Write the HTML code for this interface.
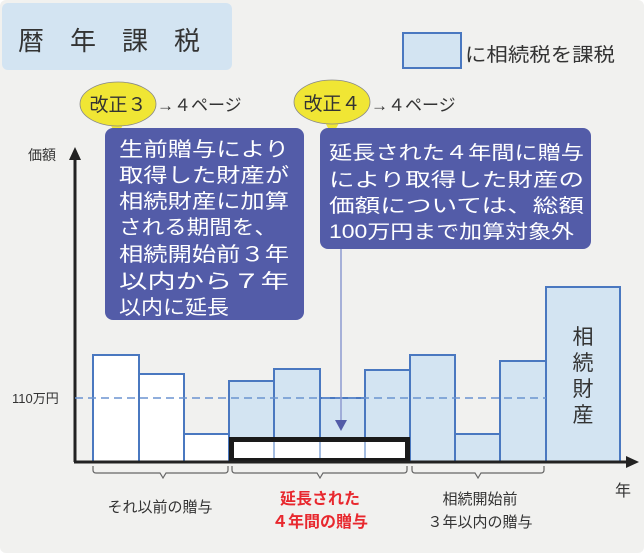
<!DOCTYPE html><html><head><meta charset="utf-8"><style>body{margin:0;background:#fff}svg{display:block}text{font-family:"Liberation Sans","Noto Sans CJK JP",sans-serif}</style></head><body>
<svg width="644" height="553" viewBox="0 0 644 553">
<rect x="0" y="0" width="644" height="553" rx="6" fill="#f1f1ef"/>
<rect x="2" y="3" width="230" height="67" rx="6" fill="#d3e4f2"/>
<text x="18" y="50" font-size="26" fill="#333" letter-spacing="26">暦年課税</text>
<rect x="403" y="33" width="58" height="35" fill="#d3e4f2" stroke="#4a78c0" stroke-width="2"/>
<text x="465" y="61" font-size="19" fill="#333" textLength="150" lengthAdjust="spacingAndGlyphs">に相続税を課税</text>
<!-- bubbles -->
<path d="M110,124 L117,136 L124,123 Z" fill="#f0e634"/>
<ellipse cx="118" cy="104" rx="38" ry="22" fill="#f0e634" stroke="#888" stroke-width="0.8"/>
<text x="118" y="111" font-size="19" fill="#333" text-anchor="middle">改正３</text>
<text x="157" y="111" font-size="17" fill="#333">→４ページ</text>
<path d="M326,124 L332,136 L339,123 Z" fill="#f0e634"/>
<ellipse cx="332" cy="102" rx="38" ry="22" fill="#f0e634" stroke="#888" stroke-width="0.8"/>
<text x="332" y="110" font-size="19" fill="#333" text-anchor="middle">改正４</text>
<text x="371" y="111" font-size="17" fill="#333">→４ページ</text>
<!-- box1 -->
<rect x="105" y="128" width="199" height="192" rx="8" fill="#535ca8"/>
<g fill="#fff" font-size="20">
<text x="119" y="156" textLength="170" lengthAdjust="spacingAndGlyphs">生前贈与により</text>
<text x="119" y="182" textLength="170" lengthAdjust="spacingAndGlyphs">取得した財産が</text>
<text x="119" y="208" textLength="170" lengthAdjust="spacingAndGlyphs">相続財産に加算</text>
<text x="119" y="234" textLength="158" lengthAdjust="spacingAndGlyphs">される期間を、</text>
<text x="119" y="261" textLength="170" lengthAdjust="spacingAndGlyphs">相続開始前３年</text>
<text x="119" y="288" textLength="170" lengthAdjust="spacingAndGlyphs">以内から７年</text>
<text x="119" y="314" textLength="110" lengthAdjust="spacingAndGlyphs">以内に延長</text>
</g>
<rect x="320" y="128" width="271" height="121" rx="8" fill="#535ca8"/>
<g fill="#fff" font-size="19">
<text x="329" y="159" textLength="255" lengthAdjust="spacingAndGlyphs">延長された４年間に贈与</text>
<text x="329" y="186" textLength="255" lengthAdjust="spacingAndGlyphs">により取得した財産の</text>
<text x="329" y="212" textLength="255" lengthAdjust="spacingAndGlyphs">価額については、総額</text>
<text x="329" y="238" textLength="245" lengthAdjust="spacingAndGlyphs">100万円まで加算対象外</text>
</g>
<!-- axes -->
<line x1="75" y1="150" x2="75" y2="462" stroke="#222" stroke-width="3"/>
<path d="M69,160 L75,147 L81,160 Z" fill="#222"/>
<text x="28" y="160" font-size="14" fill="#333">価額</text>
<!-- bars -->
<g stroke="#4a78c0" stroke-width="2">
<rect x="93" y="355" width="46" height="107" fill="#fff"/>
<rect x="139" y="374" width="45" height="88" fill="#fff"/>
<rect x="184" y="434" width="45" height="28" fill="#fff"/>
<rect x="229" y="381" width="45" height="81" fill="#d3e4f2"/>
<rect x="274" y="369" width="46" height="93" fill="#d3e4f2"/>
<rect x="320" y="398" width="45" height="64" fill="#d3e4f2"/>
<rect x="365" y="370" width="45" height="92" fill="#d3e4f2"/>
<rect x="410" y="355" width="45" height="107" fill="#d3e4f2"/>
<rect x="455" y="434" width="45" height="28" fill="#d3e4f2"/>
<rect x="500" y="361" width="46" height="101" fill="#d3e4f2"/>
<rect x="546" y="287" width="74" height="175" fill="#d3e4f2"/>
</g>
<line x1="75" y1="398" x2="546" y2="398" stroke="#6b93d0" stroke-width="1.5" stroke-dasharray="8,5"/>
<line x1="341" y1="249" x2="341" y2="422" stroke="#8e9ad0" stroke-width="1.5"/>
<path d="M335,420 L341,431 L347,420 Z" fill="#535ca8"/>
<rect x="231.5" y="439.5" width="176" height="21" fill="#fff" stroke="#1a1a1a" stroke-width="5"/>
<g stroke="#4a78c0" stroke-width="1"><line x1="274" y1="442" x2="274" y2="458"/><line x1="320" y1="442" x2="320" y2="458"/><line x1="365" y1="442" x2="365" y2="458"/></g>
<line x1="74" y1="462" x2="628" y2="462" stroke="#222" stroke-width="3"/>
<path d="M626,456 L639,462 L626,468 Z" fill="#222"/>
<text x="615" y="496" font-size="16" fill="#333">年</text>
<text x="12" y="403" font-size="13" fill="#333">110万円</text>
<g fill="#333" font-size="21" text-anchor="middle">
<text x="583" y="344">相</text><text x="583" y="370">続</text><text x="583" y="396">財</text><text x="583" y="422">産</text>
</g>
<!-- braces -->
<g fill="none" stroke="#666" stroke-width="1.2">
<path d="M93,466 v4 q0,3 3,3 h64 l3,5 l3,-5 h59 q3,0 3,-3 v-4"/>
<path d="M232,466 v4 q0,3 3,3 h82 l3,5 l3,-5 h81 q3,0 3,-3 v-4"/>
<path d="M412,466 v4 q0,3 3,3 h60 l3,5 l3,-5 h60 q3,0 3,-3 v-4"/>
</g>
<text x="160" y="512" font-size="15" fill="#333" text-anchor="middle">それ以前の贈与</text>
<text x="320" y="504" font-size="16" font-weight="bold" fill="#e8282e" text-anchor="middle">延長された</text>
<text x="320" y="527" font-size="16" font-weight="bold" fill="#e8282e" text-anchor="middle">４年間の贈与</text>
<text x="480" y="504" font-size="15" fill="#333" text-anchor="middle">相続開始前</text>
<text x="480" y="527" font-size="15" fill="#333" text-anchor="middle">３年以内の贈与</text>
</svg>
</body></html>
